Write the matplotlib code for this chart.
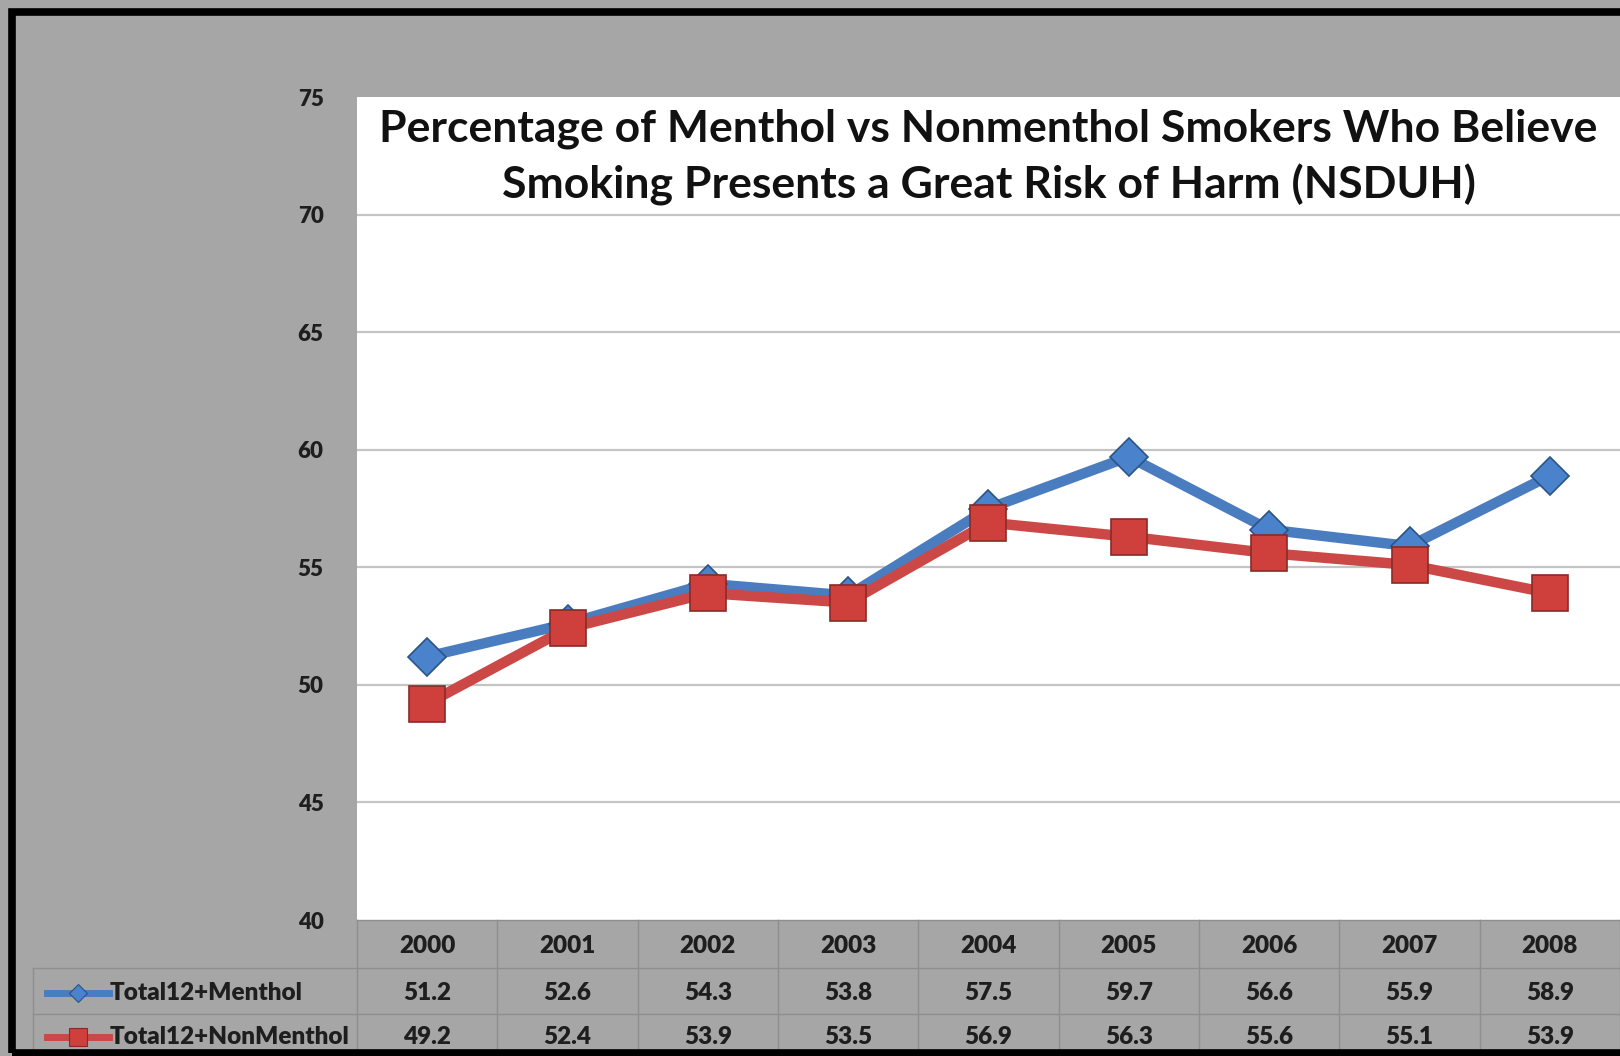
import matplotlib.pyplot as plt
from matplotlib.lines import Line2D
from matplotlib.patches import Rectangle
from matplotlib.transforms import blended_transform_factory

plt.rcParams['font.family'] = ['Lato', 'DejaVu Sans']

# data
years = ['2000', '2001', '2002', '2003', '2004', '2005', '2006', '2007', '2008']
menthol = [51.2, 52.6, 54.3, 53.8, 57.5, 59.7, 56.6, 55.9, 58.9]
nonmenthol = [49.2, 52.4, 53.9, 53.5, 56.9, 56.3, 55.6, 55.1, 53.9]
series_names = ['Total12+Menthol', 'Total12+NonMenthol']
yticks = [40, 45, 50, 55, 60, 65, 70, 75]
title = ('Percentage of Menthol vs Nonmenthol Smokers Who Believe\n'
         'Smoking Presents a Great Risk of Harm (NSDUH)')

W, H = 1620, 1056
bg = '#a6a6a6'
txt = '#1e1e1e'
gridc = '#c4c4c4'
tline = '#8e8e8e'

blue_line, blue_face, blue_edge = '#4a7dc0', '#4a82cc', '#2a5488'
red_line, red_face, red_edge = '#cc4846', '#cf3f3c', '#8a2a28'


def fx(px):
    return px / W


def fy(py):
    return 1 - py / H


fig = plt.figure(figsize=(W / 100, H / 100), dpi=100, facecolor=bg)

# plot area
ax = fig.add_axes([fx(357), fy(920), fx(W) - fx(357), fy(97) - fy(920)])
ax.set_facecolor('white')
x = list(range(len(years)))
ax.set_xlim(-0.5, len(years) - 0.5)
ax.set_ylim(yticks[0], yticks[-1])
for s in ax.spines.values():
    s.set_visible(False)
for v in yticks[1:-1]:
    ax.axhline(v, color=gridc, lw=1.6, zorder=0)
ax.set_xticks([])
ax.set_yticks(yticks)
ax.tick_params(axis='y', length=0, pad=24, labelsize=16, labelcolor=txt)
for lab in ax.get_yticklabels():
    lab.set_fontweight('heavy')

ax.plot(x, menthol, color=blue_line, lw=7.5, marker='D', ms=19,
        mfc=blue_face, mec=blue_edge, mew=1.2, zorder=3, clip_on=False)
ax.plot(x, nonmenthol, color=red_line, lw=7.5, marker='s', ms=26,
        mfc=red_face, mec=red_edge, mew=1.2, zorder=4, clip_on=False)

ax.text(0.5, 0.986, title, transform=ax.transAxes, ha='center', va='top',
        fontsize=32, fontweight='bold', color='#111111', linespacing=1.42)

# data table under the chart
tr = blended_transform_factory(ax.transData, fig.transFigure)
rows_y = [946, 993, 1037]
fs = 17.5
for i, yr in enumerate(years):
    fig.text(i, fy(rows_y[0]), yr, transform=tr, ha='center', va='center',
             fontsize=fs, fontweight='heavy', color=txt)
    fig.text(i, fy(rows_y[1]), f'{menthol[i]:.1f}', transform=tr, ha='center',
             va='center', fontsize=fs, fontweight='heavy', color=txt)
    fig.text(i, fy(rows_y[2]), f'{nonmenthol[i]:.1f}', transform=tr, ha='center',
             va='center', fontsize=fs, fontweight='heavy', color=txt)

# table grid
for i in range(len(years) + 1):
    fig.add_artist(Line2D([i - 0.5, i - 0.5], [fy(920), fy(1052)], transform=tr,
                          color=tline, lw=1))
fig.add_artist(Line2D([fx(357), 1], [fy(920), fy(920)], color=tline, lw=1))
for yy in [968, 1014]:
    fig.add_artist(Line2D([fx(33), 1], [fy(yy), fy(yy)], color=tline, lw=1))
fig.add_artist(Line2D([fx(33), fx(33)], [fy(968), fy(1052)], color=tline, lw=1))

# legend keys in the table
keys = [(blue_line, 'D', 9, blue_face, blue_edge),
        (red_line, 's', 13, red_face, red_edge)]
for (c, m, ms, fc, ec), name, yy in zip(keys, series_names, rows_y[1:]):
    fig.add_artist(Line2D([fx(47), fx(109)], [fy(yy), fy(yy)], color=c, lw=5))
    fig.add_artist(Line2D([fx(78)], [fy(yy)], marker=m, ms=ms, mfc=fc, mec=ec,
                          mew=0.8, lw=0))
    fig.text(fx(110), fy(yy), name, ha='left', va='center', fontsize=fs,
             fontweight='heavy', color=txt)

# black frame
fig.add_artist(Rectangle((fx(12), fy(1053)), 1.2, fy(12) - fy(1053),
                         transform=fig.transFigure, fill=False,
                         edgecolor='black', lw=5.5, zorder=10))

fig.savefig('out.png', dpi=100, facecolor=bg)
